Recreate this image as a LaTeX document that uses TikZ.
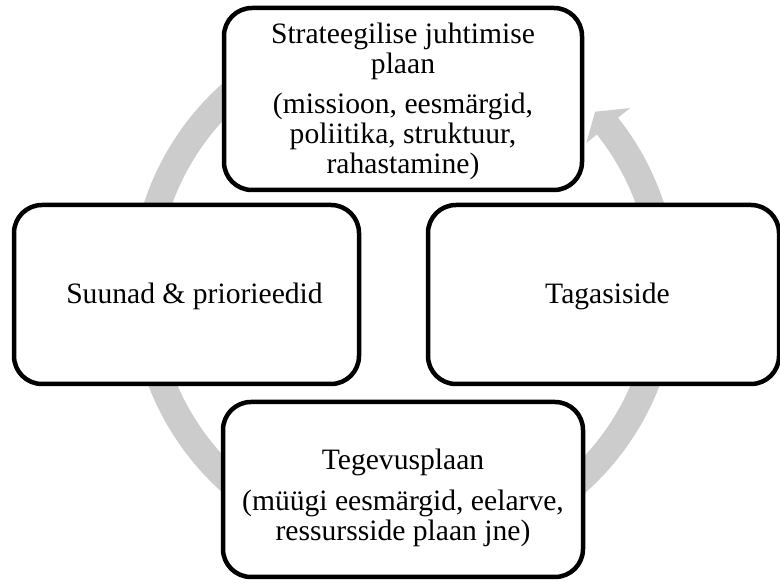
\documentclass[tikz,border=0pt]{standalone}
\usepackage{fontspec}
\setmainfont{Liberation Serif}
\usetikzlibrary{calc}
\definecolor{ringgray}{RGB}{204,204,204}
\tikzset{
  box/.style={draw=black, line width=4.5pt, rounded corners=28pt, fill=white,
    inner sep=0pt, outer sep=0pt},
  txt/.style={align=center, inner sep=0pt, font=\fontsize{29.6}{30}\selectfont},
}
\begin{document}
\begin{tikzpicture}[x=1pt,y=1pt]
\useasboundingbox (0,0) rectangle (780,583);
\coordinate (c) at (404,295);
% grey circular arrow
\fill[ringgray] (c) ++(90:273.5)
  arc[start angle=90, end angle=398.5, radius=273.5]
  -- ($(c)+(38.5:289)$) -- ($(c)+(42.7:260)$) -- ($(c)+(38.5:233)$)
  -- ($(c)+(38.5:246.5)$)
  arc[start angle=398.5, end angle=90, radius=246.5] -- cycle;
% boxes
\node[box, minimum width=358pt, minimum height=182pt] (top) at (403,484) {};
\node[box, minimum width=345pt, minimum height=179pt] (left) at (186.5,288.5) {};
\node[box, minimum width=351pt, minimum height=179pt] (right) at (603.5,288.5) {};
\node[box, minimum width=360pt, minimum height=175pt] (bottom) at (403,93.5) {};
% texts
\node[txt] (toptext) at ($(top)+(0,-2)$)
  {Strateegilise juhtimise\\ plaan\\[10pt] (missioon, eesmärgid,\\ poliitika, struktuur,\\ rahastamine)};
\node[txt] (lefttext) at ($(left)+(8,-2)$) {Suunad \& priorieedid};
\node[txt] (righttext) at ($(right)+(4,-2)$) {Tagasiside};
\node[txt] (bottomtext) at ($(bottom)+(0,-8)$)
  {Tegevusplaan\\[11pt] (müügi eesmärgid, eelarve,\\ ressursside plaan jne)};
\end{tikzpicture}
\end{document}
